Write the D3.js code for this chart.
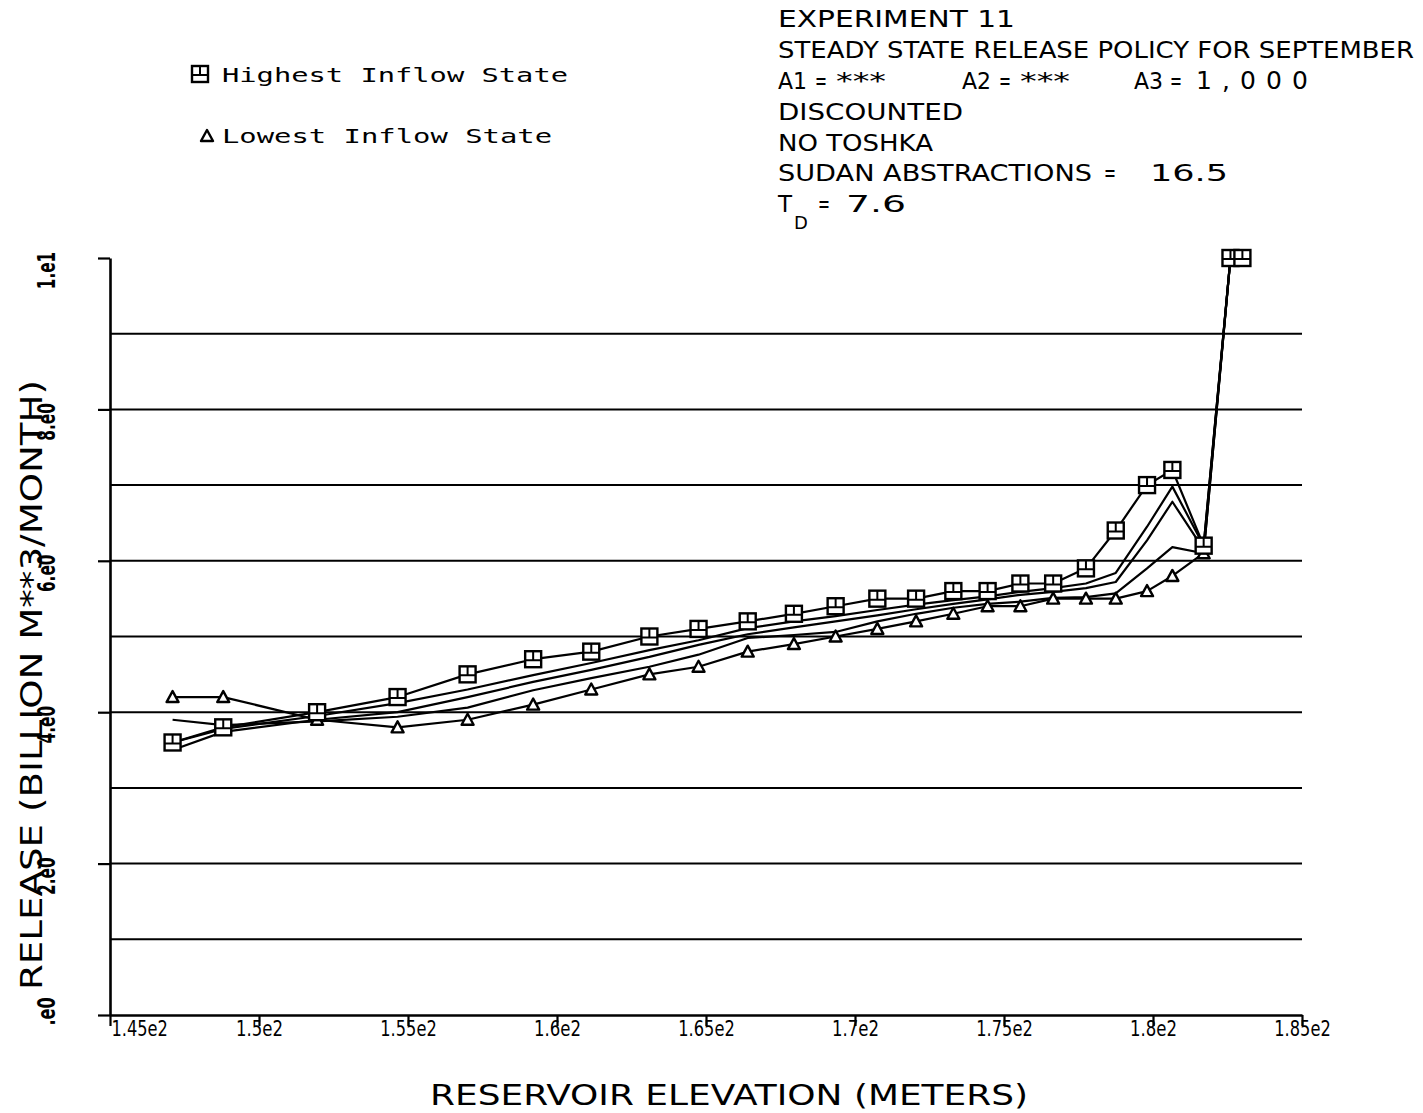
<!DOCTYPE html>
<html>
<head>
<meta charset="utf-8">
<script src="https://cdn.jsdelivr.net/npm/d3@7"></script>
<style>
  body { margin: 0; background: #fff; }
  svg { display: block; }
</style>
</head>
<body>
<svg id="chart" width="1423" height="1113"></svg>
<script>
// Reservoir elevation (m) of each storage state
const elevation = [147.1, 148.8, 151.95, 154.65, 157.0, 159.2, 161.15, 163.1, 164.75, 166.4,
  167.95, 169.35, 170.75, 172.05, 173.3, 174.45, 175.55, 176.65, 177.75, 178.75,
  179.8, 180.65, 181.7, 182.6, 183.0];

// Release (billion m^3/month) for each inflow state
const highestInflow = [3.6, 3.8, 4.0, 4.2, 4.5, 4.7, 4.8, 5.0, 5.1, 5.2,
  5.3, 5.4, 5.5, 5.5, 5.6, 5.6, 5.7, 5.7, 5.9, 6.4,
  7.0, 7.2, 6.2, 10, 10];
const inflowState2 = [3.6, 3.78, 3.95, 4.12, 4.3, 4.49, 4.65, 4.82, 4.95, 5.11,
  5.2, 5.27, 5.35, 5.42, 5.48, 5.53, 5.59, 5.64, 5.7, 5.84,
  6.45, 6.98, 6.2, 10, 10];
const inflowState3 = [3.5, 3.74, 3.9, 4.0, 4.2, 4.4, 4.56, 4.73, 4.89, 5.03,
  5.12, 5.2, 5.28, 5.36, 5.43, 5.49, 5.55, 5.59, 5.64, 5.72,
  6.27, 6.78, 6.15, 10, 10];
const inflowState4 = [3.9, 3.83, 3.88, 3.94, 4.06, 4.29, 4.45, 4.6, 4.76, 4.98,
  5.02, 5.06, 5.2, 5.3, 5.38, 5.43, 5.46, 5.51, 5.52, 5.57,
  5.9, 6.18, 6.1, 10, 10];
const lowestInflow = [4.2, 4.2, 3.9, 3.8, 3.9, 4.1, 4.3, 4.5, 4.6, 4.8,
  4.9, 5.0, 5.1, 5.2, 5.3, 5.4, 5.4, 5.5, 5.5, 5.5,
  5.6, 5.8, 6.1, 10, 10];

// Axes
const xTickValues = [145, 150, 155, 160, 165, 170, 175, 180, 185];
const xTickLabels = ["1.45e2", "1.5e2", "1.55e2", "1.6e2", "1.65e2", "1.7e2", "1.75e2", "1.8e2", "1.85e2"];
const yTickValues = [0, 2, 4, 6, 8, 10];
const yTickLabels = [".e0", "2.e0", "4.e0", "6.e0", "8.e0", "1.e1"];
const gridValues = [1, 2, 3, 4, 5, 6, 7, 8, 9];
const xTitle = "RESERVOIR ELEVATION (METERS)";
const yTitle = "RELEASE (BILLION M**3/MONTH)";

// Legend and run description
const legendLabels = ["Highest Inflow State", "Lowest Inflow State"];
const headerLines = ["EXPERIMENT 11", "STEADY STATE RELEASE POLICY FOR SEPTEMBER"];
const weightTerms = [["A1", "=", "***"], ["A2", "=", "***"], ["A3", "=", "1,000"]];
const headerLines2 = ["DISCOUNTED", "NO TOSHKA"];
const sudanLine = ["SUDAN ABSTRACTIONS", "=", "16.5"];
const tdLabel = ["T", "D", "=", "7.6"];

const svg = d3.select("#chart");
const FONT = "'DejaVu Sans', 'Liberation Sans', sans-serif";
const MONO = "'DejaVu Sans Mono', 'Liberation Mono', monospace";

const x = d3.scaleLinear().domain([145, 185]).range([110, 1302]);
const y = d3.scaleLinear().domain([0, 10]).range([1015, 258]);

// horizontal grid
svg.append("g")
  .selectAll("line")
  .data(gridValues)
  .join("line")
  .attr("x1", x(145)).attr("x2", x(185))
  .attr("y1", d => y(d)).attr("y2", d => y(d))
  .attr("stroke", "#000").attr("stroke-width", 2);

// y axis
const gy = svg.append("g")
  .attr("transform", `translate(${x(145)},0)`)
  .call(d3.axisLeft(y).tickValues(yTickValues).tickSize(12).tickSizeOuter(0)
    .tickFormat((d, i) => yTickLabels[i]));
gy.select(".domain").attr("stroke", "#000").attr("stroke-width", 2.6);
gy.selectAll(".tick line").attr("stroke", "#000").attr("stroke-width", 2.2);
gy.selectAll(".tick text")
  .attr("x", null).attr("dy", null)
  .attr("text-anchor", "middle")
  .attr("transform", d => `translate(-55,${d === 0 ? -4 : 12}) rotate(-90)`)
  .attr("font-family", FONT).attr("font-size", 24).attr("font-weight", "bold")
  .attr("fill", "#000")
  .attr("textLength", (d, i) => yTickLabels[i].length * 9.4)
  .attr("lengthAdjust", "spacingAndGlyphs");

// x axis
const gx = svg.append("g")
  .attr("transform", `translate(0,${y(0)})`)
  .call(d3.axisBottom(x).tickValues(xTickValues).tickSize(11).tickSizeOuter(0)
    .tickFormat((d, i) => xTickLabels[i]));
gx.select(".domain").attr("stroke", "#000").attr("stroke-width", 2.6);
gx.selectAll(".tick line").attr("stroke", "#000").attr("stroke-width", 2.2);
gx.selectAll(".tick text")
  .attr("y", 5).attr("dy", "0.71em")
  .attr("font-family", FONT).attr("font-size", 22).attr("fill", "#000")
  .attr("textLength", (d, i) => xTickLabels[i].length * 9.4)
  .attr("lengthAdjust", "spacingAndGlyphs")
  .filter(d => d === 145)
  .attr("text-anchor", "start").attr("x", 1);

// axis titles
svg.append("text")
  .attr("x", 729).attr("y", 1105)
  .attr("text-anchor", "middle")
  .attr("font-family", FONT).attr("font-size", 29)
  .attr("textLength", 598).attr("lengthAdjust", "spacingAndGlyphs")
  .text(xTitle);
svg.append("text")
  .attr("transform", "translate(42,685) rotate(-90)")
  .attr("text-anchor", "middle")
  .attr("font-family", FONT).attr("font-size", 30)
  .attr("textLength", 610).attr("lengthAdjust", "spacingAndGlyphs")
  .text(yTitle);

// marker shapes
function squareMark(sel, cx, cy) {
  sel.append("rect")
    .attr("x", cx - 8).attr("y", cy - 8).attr("width", 16).attr("height", 16)
    .attr("fill", "#fff").attr("stroke", "#000").attr("stroke-width", 2.4);
  sel.append("path")
    .attr("d", `M${cx},${cy - 8}V${cy + 1}M${cx - 8},${cy + 1}H${cx + 8}`)
    .attr("fill", "none").attr("stroke", "#000").attr("stroke-width", 2);
}
function triangleMark(sel, cx, cy) {
  sel.append("path")
    .attr("d", `M${cx},${cy - 6}L${cx + 6},${cy + 5}L${cx - 6},${cy + 5}Z`)
    .attr("fill", "#fff").attr("stroke", "#000").attr("stroke-width", 2.4)
    .attr("stroke-linejoin", "round");
}

// policy curves
const series = [lowestInflow, inflowState4, inflowState3, inflowState2, highestInflow];
const line = d3.line().x((d, i) => x(elevation[i])).y(d => y(d));
svg.append("g")
  .selectAll("path")
  .data(series)
  .join("path")
  .attr("d", line)
  .attr("fill", "none").attr("stroke", "#000").attr("stroke-width", 2.2)
  .attr("stroke-linejoin", "round");

const marks = svg.append("g");
lowestInflow.forEach((v, i) => triangleMark(marks, x(elevation[i]), y(v)));
highestInflow.forEach((v, i) => squareMark(marks, x(elevation[i]), y(v)));

// legend
const lg = svg.append("g");
squareMark(lg, 200, 74);
triangleMark(lg, 207, 136);
lg.selectAll("text")
  .data(legendLabels)
  .join("text")
  .attr("x", 222).attr("y", (d, i) => 82 + i * 61)
  .attr("font-family", MONO).attr("font-size", 20)
  .attr("textLength", (d, i) => i === 0 ? 346 : 330)
  .attr("lengthAdjust", "spacingAndGlyphs")
  .text(d => d);

// run description block
const hd = svg.append("g")
  .attr("font-family", FONT).attr("font-size", 23).attr("fill", "#000");
function headerText(str, px, py, w, adjust) {
  const t = hd.append("text").attr("x", px).attr("y", py).text(str);
  if (w) t.attr("textLength", w).attr("lengthAdjust", adjust || "spacingAndGlyphs");
  return t;
}
headerText(headerLines[0], 778, 27, 237);
headerText(headerLines[1], 778, 58, 636);
// weights line: A1, A2, A3 each as name / sign / value
[[778, 815, 836, 50], [962, 999, 1020, 50], [1134, 1170, 1196, 112]].forEach(([pa, pe, pv, wv], i) => {
  headerText(weightTerms[i][0], pa, 89, 29);
  headerText(weightTerms[i][1], pe, 89, 12);
  const t = headerText(weightTerms[i][2], pv, 89, wv, i === 2 ? "spacing" : "spacingAndGlyphs");
  if (i === 2) t.attr("font-size", 25);
});
headerText(headerLines2[0], 778, 120, 185);
headerText(headerLines2[1], 778, 151, 155);
headerText(sudanLine[0], 778, 181, 314);
headerText(sudanLine[1], 1104, 181, 12);
headerText(sudanLine[2], 1150, 181, 78);
headerText(tdLabel[0], 778, 212);
hd.append("text").attr("x", 794).attr("y", 229).attr("font-size", 18).text(tdLabel[1]);
headerText(tdLabel[2], 818, 212, 12);
headerText(tdLabel[3], 846, 212, 60);
</script>
</body>
</html>
